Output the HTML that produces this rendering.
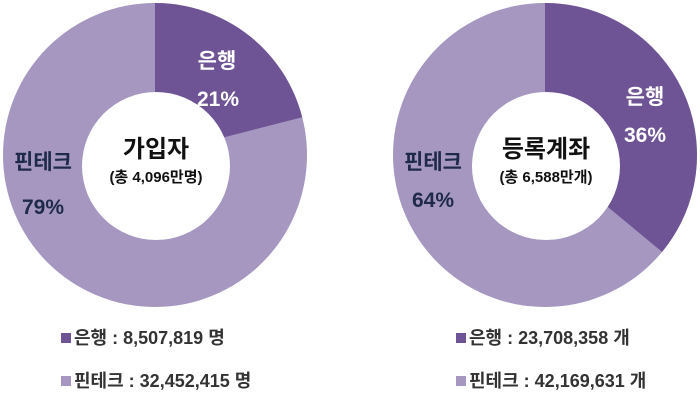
<!DOCTYPE html>
<html><head><meta charset="utf-8"><style>
body{margin:0;width:700px;height:407px;background:#fff;overflow:hidden}
svg text{font-family:"Liberation Sans","Noto Sans CJK KR",sans-serif;font-weight:bold}
</style></head><body>
<svg width="700" height="407" viewBox="0 0 700 407">
<circle cx="155" cy="155" r="152" fill="#a597c0"/>
<path d="M155,155 L155,3 A152,152 0 0 1 302.2,117.2 Z" fill="#6e5494"/>
<circle cx="156" cy="166" r="74" fill="#fff"/>
<circle cx="545" cy="155" r="152" fill="#a597c0"/>
<path d="M545,155 L545,3 A152,152 0 0 1 662.1,251.9 Z" fill="#6e5494"/>
<circle cx="546" cy="166" r="74" fill="#fff"/>

<g font-size="21" text-anchor="middle">
<text x="217" y="68" fill="#fff">은행</text>
<text x="218" y="106" fill="#fff">21%</text>
<text x="43" y="169" fill="#1f2a4a">핀테크</text>
<text x="43" y="214" fill="#1f2a4a">79%</text>
<text x="645" y="104" fill="#fff">은행</text>
<text x="645" y="142" fill="#fff">36%</text>
<text x="433" y="169" fill="#1f2a4a">핀테크</text>
<text x="433" y="207" fill="#1f2a4a">64%</text>
</g>
<g text-anchor="middle" fill="#111">
<text x="156" y="157" font-size="24">가입자</text>
<text x="156" y="182" font-size="15">(총 4,096만명)</text>
<text x="546" y="157" font-size="24">등록계좌</text>
<text x="546" y="182" font-size="15">(총 6,588만개)</text>
</g>
<g font-size="18" fill="#333">
<rect x="61" y="333" width="10" height="10" fill="#6e5494"/>
<text x="74" y="344">은행 : 8,507,819 명</text>
<rect x="61" y="376" width="10" height="10" fill="#a597c0"/>
<text x="74" y="387">핀테크 : 32,452,415 명</text>
<rect x="456" y="333" width="10" height="10" fill="#6e5494"/>
<text x="469" y="344">은행 : 23,708,358 개</text>
<rect x="456" y="376" width="10" height="10" fill="#a597c0"/>
<text x="469" y="387">핀테크 : 42,169,631 개</text>
</g>
</svg>
</body></html>
